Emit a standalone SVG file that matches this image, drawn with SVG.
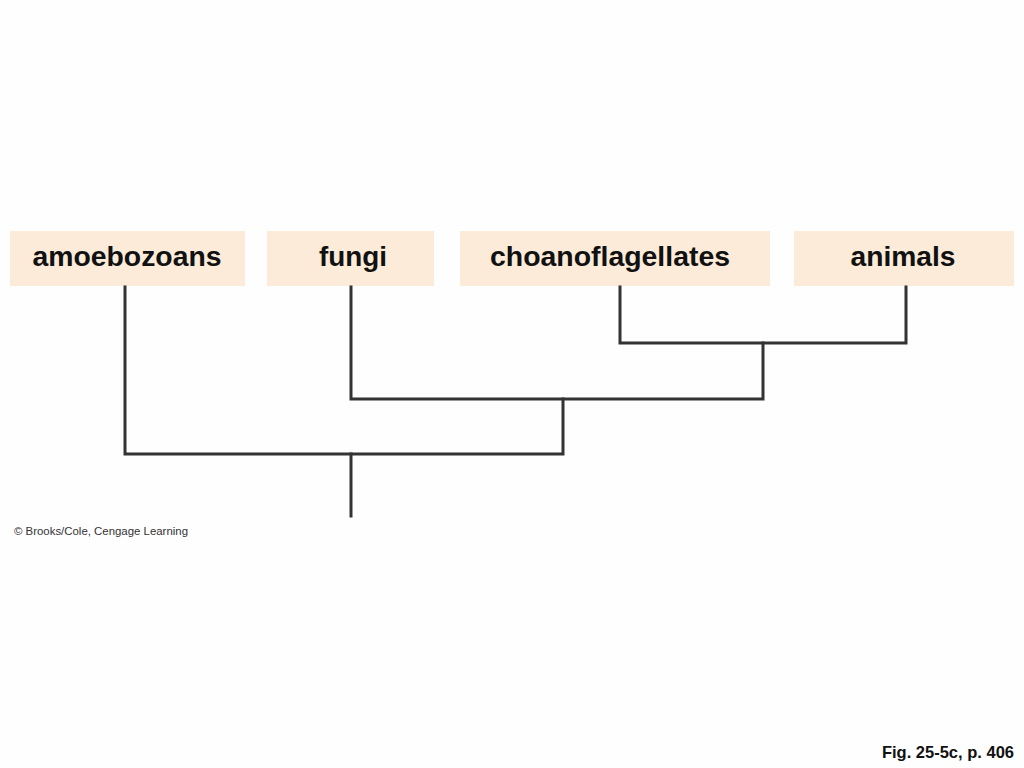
<svg xmlns="http://www.w3.org/2000/svg" width="1024" height="768" viewBox="0 0 1024 768">
<style>
.box{fill:#fbebd8;}
.lbl{font-family:"Liberation Sans",Arial,sans-serif;font-weight:bold;font-size:28.5px;fill:#111;text-anchor:middle;}
.edge{fill:none;stroke:#333;stroke-width:3;stroke-linecap:square;stroke-linejoin:miter;}
</style>
<rect width="1024" height="768" fill="#fefefe"/>
<g id="node-amoebozoans"><rect class="box" x="10" y="231" width="235" height="55"/><text class="lbl" x="127" y="266" textLength="189" lengthAdjust="spacingAndGlyphs">amoebozoans</text></g>
<g id="node-fungi"><rect class="box" x="267" y="231" width="167" height="55"/><text class="lbl" x="353" y="266" textLength="68" lengthAdjust="spacingAndGlyphs">fungi</text></g>
<g id="node-choanoflagellates"><rect class="box" x="460" y="231" width="310" height="55"/><text class="lbl" x="610" y="266" textLength="240" lengthAdjust="spacingAndGlyphs">choanoflagellates</text></g>
<g id="node-animals"><rect class="box" x="794" y="231" width="220" height="55"/><text class="lbl" x="903" y="266" textLength="105" lengthAdjust="spacingAndGlyphs">animals</text></g>
<g id="connectors">
<path class="edge" d="M620 287V343H906V287"/>
<path class="edge" d="M351 287V399H763V343"/>
<path class="edge" d="M125 287V454H563V399"/>
<path class="edge" d="M351 454V516"/>
</g>
<text x="14" y="535" font-family="Liberation Sans,Arial,sans-serif" font-size="11.5" fill="#333" textLength="174" lengthAdjust="spacingAndGlyphs">© Brooks/Cole, Cengage Learning</text>
<text x="1014" y="758" font-family="Liberation Sans,Arial,sans-serif" font-size="16.5" font-weight="bold" fill="#111" text-anchor="end">Fig. 25-5c, p. 406</text>
</svg>
